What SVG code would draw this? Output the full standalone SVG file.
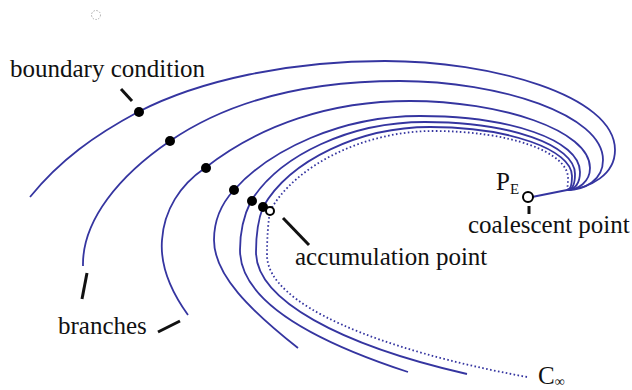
<svg xmlns="http://www.w3.org/2000/svg" width="632" height="390" viewBox="0 0 632 390">
<style>
.c{fill:none;stroke:#3535a0;stroke-width:1.8}
.d{fill:none;stroke:#3535a0;stroke-width:1.8;stroke-dasharray:1.6 2.4}
.t{font-family:"Liberation Serif","Times New Roman",serif;font-size:25px;fill:#111}
.ld{stroke:#111;stroke-width:3;stroke-linecap:butt}
.dot{fill:#000}
</style>
<rect width="632" height="390" fill="#fff"/>
<circle cx="96" cy="15" r="4.5" fill="none" stroke="#aaa" stroke-width="1" stroke-dasharray="1.5 1.5"/>
<g id="connectors">
<path id="branch1" class="c" d="M30,197 C60,160 95,135 138,112 C200,80 290,61 385,61 C490,61 615,95 615,150 C615,175 590,188 567,190 L532,197"/>
<path id="branch2" class="c" d="M83,266 C82,220 120,175 170,141 C230,100 310,81 400,81 C500,81 603,115 603,160 C603,180 585,190 567,190"/>
<path id="branch3" class="c" d="M188,315 C170,290 160,265 162,240 C164,210 180,185 205,168 C260,125 330,101 410,101 C500,101 590,130 590,168 C590,182 578,190 567,190"/>
<path id="branch4" class="c" d="M298,348 C250,310 214,275 214,240 C214,220 222,203 234,190 C270,150 340,116 420,116 C510,116 580,140 580,172 C580,183 575,190 567,190"/>
<path id="branch5" class="c" d="M408,372 C310,340 240,300 240,250 C240,232 244,215 251,201 C280,155 350,122 425,122 C510,122 575,145 575,174 C575,184 572,190 567,190"/>
<path id="branch6" class="c" d="M467,374 C340,345 256,300 256,252 C256,235 258,220 263,207 C290,160 360,127 430,127 C510,127 572,150 572,176 C572,185 570,190 567,190"/>
<path id="cinf" class="d" d="M527,377 C380,350 267,305 267,255 C267,238 268,224 270,211 C295,165 365,131 433,131 C510,131 568,152 568,178 C568,185 567,190 567,190"/>
<line class="ld" x1="121" y1="89" x2="132" y2="101"/>
<line class="ld" x1="87" y1="273" x2="82" y2="299"/>
<line class="ld" x1="158" y1="332" x2="180" y2="321"/>
<line class="ld" x1="283" y1="218" x2="309" y2="245"/>
<line class="ld" x1="529" y1="206" x2="529" y2="214"/>
</g>
<g id="dots">
<circle class="dot" cx="139" cy="112" r="5"/>
<circle class="dot" cx="170" cy="141" r="5"/>
<circle class="dot" cx="206" cy="168" r="5"/>
<circle class="dot" cx="234" cy="190" r="5"/>
<circle class="dot" cx="252" cy="201" r="5"/>
<circle class="dot" cx="263" cy="207" r="5"/>
</g>
<g id="accumulation">
<circle cx="270" cy="211" r="4" fill="#fff" stroke="#000" stroke-width="2"/>
<text class="t" x="295" y="265">accumulation point</text>
</g>
<g id="coalescent">
<circle cx="528" cy="197" r="5" fill="#fff" stroke="#000" stroke-width="2"/>
<text class="t" x="496" y="190">P<tspan font-size="15" dy="4">E</tspan></text>
<text class="t" x="468" y="233">coalescent point</text>
</g>
<g id="labels">
<text class="t" x="10" y="77">boundary condition</text>
<text class="t" x="58" y="334">branches</text>
<text class="t" x="538" y="384" font-size="22">C<tspan font-size="14" dy="2">∞</tspan></text>
</g>
</svg>
